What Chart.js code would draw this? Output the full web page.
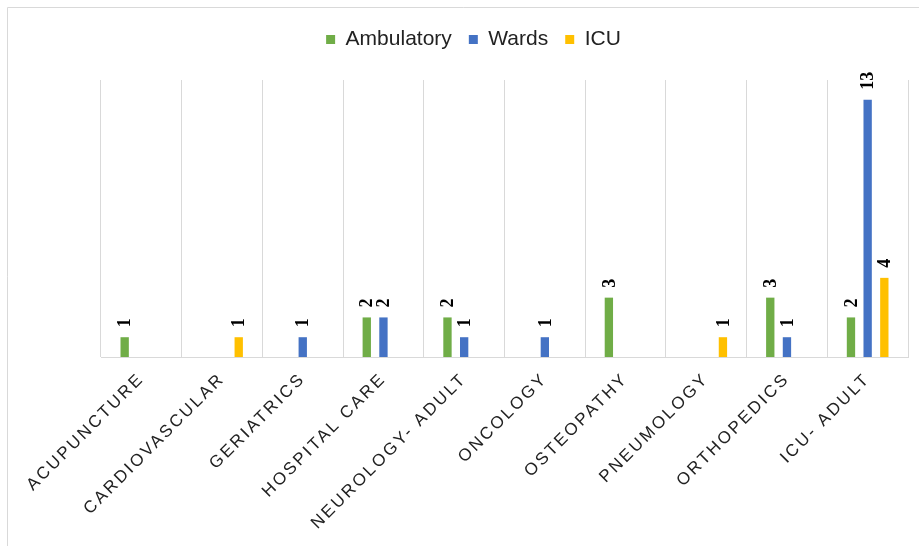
<!DOCTYPE html>
<html>
<head>
<meta charset="utf-8">
<script src="https://cdn.jsdelivr.net/npm/chart.js@4/dist/chart.umd.min.js"></script>
<style>
  html, body { margin: 0; padding: 0; background: #fff; }
  #wrap { width: 919px; height: 546px; position: relative; }
</style>
</head>
<body>
<div id="wrap"><canvas id="chart" width="919" height="546"></canvas></div>
<script>
const categories = ['ACUPUNCTURE', 'CARDIOVASCULAR', 'GERIATRICS', 'HOSPITAL CARE', 'NEUROLOGY- ADULT',
    'ONCOLOGY', 'OSTEOPATHY', 'PNEUMOLOGY', 'ORTHOPEDICS', 'ICU- ADULT'];
const ambulatory = [1, 0, 0, 2, 2, 0, 3, 0, 3, 2];
const wards = [0, 0, 1, 2, 1, 1, 0, 0, 1, 13];
const icu = [0, 1, 0, 0, 0, 0, 0, 1, 0, 4];

// outer frame (the original picture is cropped on the right and bottom)
const framePlugin = {
    id: 'frame',
    beforeDraw(chart) {
        const ctx = chart.ctx;
        ctx.save();
        ctx.strokeStyle = '#d9d9d9';
        ctx.lineWidth = 1;
        ctx.beginPath();
        ctx.moveTo(7.5, 546);
        ctx.lineTo(7.5, 7.5);
        ctx.lineTo(919, 7.5);
        ctx.stroke();
        ctx.restore();
    }
};

// legend a bit taller and shifted left, like the original
const legendTweak = {
    id: 'legendTweak',
    beforeInit(chart) {
        const fit = chart.legend.fit;
        chart.legend.fit = function () {
            fit.call(this);
            this.height += 20;
        };
    },
    afterLayout(chart) {
        chart.legend.left -= 31;
        chart.legend.right -= 31;
        // spaced-out category labels
        const sx = chart.scales.x;
        if (!sx._spaced) {
            const draw = sx.drawLabels;
            sx.drawLabels = function (area) {
                const c = this.ctx;
                const prev = c.letterSpacing;
                c.letterSpacing = '2.5px';
                draw.call(this, area);
                c.letterSpacing = prev;
            };
            sx._spaced = true;
        }
    }
};

// rotated value labels above bars
const valueLabels = {
    id: 'valueLabels',
    afterDatasetsDraw(chart) {
        const ctx = chart.ctx;
        ctx.save();
        ctx.font = 'bold 18px "Liberation Serif"';
        ctx.fillStyle = '#000';
        ctx.textAlign = 'left';
        ctx.textBaseline = 'middle';
        chart.data.datasets.forEach((ds, i) => {
            chart.getDatasetMeta(i).data.forEach((bar, j) => {
                const v = ds.data[j];
                if (!v) return;
                ctx.save();
                ctx.translate(bar.x + 1, bar.y - 10);
                ctx.rotate(-Math.PI / 2);
                ctx.fillText(String(v), 0, 0);
                ctx.restore();
            });
        });
        ctx.restore();
    }
};

const ctx = document.getElementById('chart').getContext('2d');
new Chart(ctx, {
    type: 'bar',
    data: {
        labels: categories,
        datasets: [
            { label: 'Ambulatory', data: ambulatory, backgroundColor: '#70AD47' },
            { label: 'Wards', data: wards, backgroundColor: '#4472C4' },
            { label: 'ICU', data: icu, backgroundColor: '#FFC000' }
        ]
    },
    options: {
        responsive: false,
        animation: false,
        events: [],
        layout: { padding: { left: 101, right: 11, top: 12, bottom: 0 } },
        datasets: {
            bar: { categoryPercentage: 0.62, barPercentage: 0.5 }
        },
        scales: {
            x: {
                grid: { color: '#d9d9d9', drawTicks: false, offset: true },
                border: { color: '#d9d9d9' },
                ticks: {
                    color: '#222',
                    font: { family: 'Liberation Sans', size: 17 },
                    minRotation: 45,
                    maxRotation: 45,
                    padding: 12
                },
                afterFit(axis) { axis.height = 189; }
            },
            y: {
                display: false,
                min: 0,
                max: 14
            }
        },
        plugins: {
            legend: {
                position: 'top',
                labels: {
                    color: '#222',
                    font: { family: 'Liberation Sans', size: 21 },
                    boxWidth: 9,
                    boxHeight: 9,
                    padding: 17
                }
            },
            tooltip: { enabled: false }
        }
    },
    plugins: [framePlugin, legendTweak, valueLabels]
});
</script>
</body>
</html>
